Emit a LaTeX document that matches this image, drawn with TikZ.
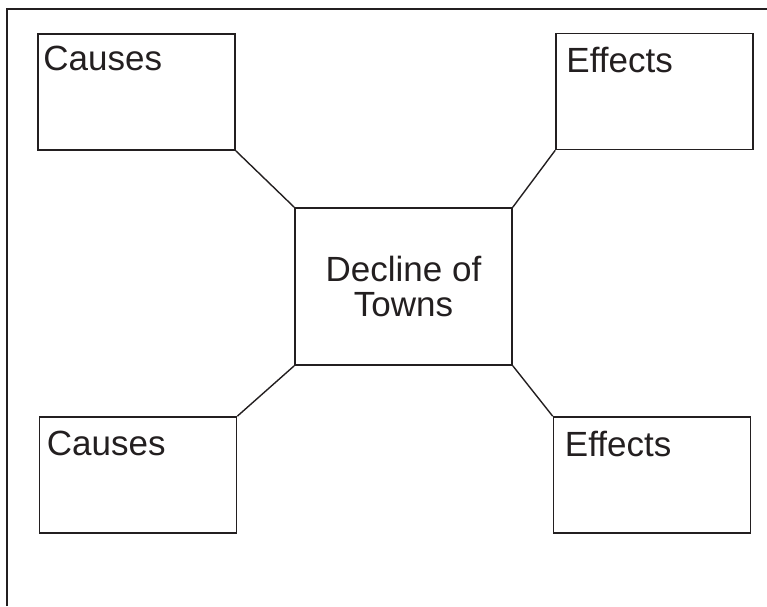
\documentclass[tikz,border=0pt]{standalone}
\usepackage{fontspec}
\setmainfont{Liberation Sans}
\usetikzlibrary{positioning}
\definecolor{ink}{RGB}{35,31,32}
\tikzset{box/.style={draw=ink, line width=1.6pt, minimum width=197pt, minimum height=116pt, inner sep=0pt},
         lbl/.style={inner sep=0pt, text=ink, font=\fontsize{35pt}{36pt}\selectfont}}

\begin{document}
\begin{tikzpicture}[x=1pt, y=-1pt]
        \useasboundingbox (0, 0) rectangle (767, 606);
        % frame
        \draw[ink, line width=1.2pt] (7, 606) -- (7, 9) -- (767, 9);
        \node[box, minimum width=217pt, minimum height=157pt, align=center, text=ink,
              font=\fontsize{35pt}{35pt}\selectfont] (D) at (403.5, 286.5) {Decline of\\Towns};
        \node[box] (C1) at (136.5, 92) {};
        \node[box] (E1) at (654.5, 91.5) {};
        \node[box] (C2) at (138, 475) {};
        \node[box] (E2) at (652, 475) {};
        \node[lbl, below right=13pt and 6pt of C1.north west] (C1t) {Causes};
        \node[lbl, below right=14pt and 11pt of E1.north west] (E1t) {Effects};
        \node[lbl, below right=15pt and 8pt of C2.north west] (C2t) {Causes};
        \node[lbl, below right=15pt and 12pt of E2.north west] (E2t) {Effects};
        \draw[ink, line width=1.4pt] (C1.south east) -- (D.north west);
        \draw[ink, line width=1.4pt] (E1.south west) -- (D.north east);
        \draw[ink, line width=1.4pt] (C2.north east) -- (D.south west);
        \draw[ink, line width=1.4pt] (E2.north west) -- (D.south east);
    \end{tikzpicture}
\end{document}
